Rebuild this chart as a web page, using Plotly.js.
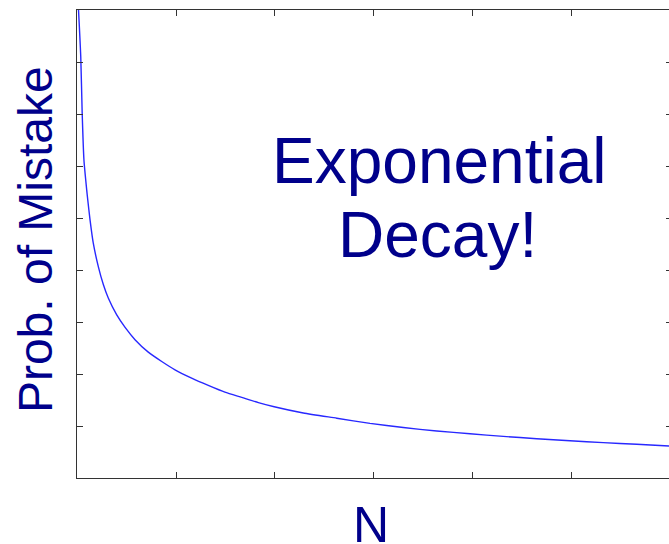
<!DOCTYPE html>
<html>
<head>
<meta charset="utf-8">
<script src="https://cdn.plot.ly/plotly-3.0.1.min.js"></script>
<style>
  html, body { margin: 0; padding: 0; background: #ffffff; }
  #chart { width: 669px; height: 544px; }
</style>
</head>
<body>
<div id="chart"></div>
<script>
// Values
var nValues = [0.5, 1.9, 2.6, 3.5, 4.9, 5.4, 6.6, 8.2, 10.8, 13.3, 15.8, 20.0, 24.2, 29.3, 36.0, 42.8, 49.5, 57.9, 66.3, 74.7, 83.2, 91.6, 99.6, 114.3, 131.2, 148.0, 164.8, 181.7, 198.5, 215.3, 232.2, 249.0, 265.8, 282.7, 299.0];
var probValues = [0.46, 0.405, 0.352, 0.306, 0.277, 0.268, 0.248, 0.226, 0.203, 0.186, 0.173, 0.157, 0.145, 0.133, 0.121, 0.112, 0.104, 0.096, 0.089, 0.0825, 0.0775, 0.0725, 0.0685, 0.0625, 0.0575, 0.0525, 0.0485, 0.0452, 0.0425, 0.0400, 0.0378, 0.0358, 0.0340, 0.0324, 0.0308];
var yTickValues = [0, 0.05, 0.1, 0.15, 0.2, 0.25, 0.3, 0.35, 0.4, 0.45];
var xTickValues = [0, 50, 100, 150, 200, 250, 300];
var xAxisLabel = "N";
var yAxisLabel = "Prob. of Mistake";
var noteLine1 = "Exponential";
var noteLine2 = "Decay!";

var navy = "#00008B";
var font = "Liberation Sans, Arial, Helvetica, sans-serif";

var traces = [{
  x: nValues,
  y: probValues,
  type: "scatter",
  mode: "lines",
  line: { color: "rgb(40,40,255)", width: 1.4, shape: "spline", smoothing: 0.6 },
  hoverinfo: "skip"
}];

var layout = {
  width: 669,
  height: 544,
  margin: { l: 77, r: 0, t: 10, b: 66, pad: 0 },
  paper_bgcolor: "#ffffff",
  plot_bgcolor: "#ffffff",
  showlegend: false,
  font: { family: font, color: "#333" },
  xaxis: {
    range: [0, 299],
    tickvals: xTickValues,
    ticks: "inside",
    ticklen: 6,
    tickwidth: 1,
    tickcolor: "#333",
    showline: true,
    linecolor: "#333",
    linewidth: 1,
    mirror: "ticks",
    showgrid: false,
    zeroline: false,
    showticklabels: false
  },
  yaxis: {
    range: [0, 0.45],
    tickvals: yTickValues,
    ticks: "inside",
    ticklen: 6,
    tickwidth: 1,
    tickcolor: "#333",
    showline: true,
    linecolor: "#333",
    linewidth: 1,
    showgrid: false,
    zeroline: false,
    showticklabels: false
  },
  yaxis2: {
    overlaying: "y",
    side: "right",
    range: [0, 0.45],
    tickvals: yTickValues,
    ticks: "inside",
    ticklen: 3,
    tickwidth: 1,
    tickcolor: "#333",
    showline: false,
    showgrid: false,
    zeroline: false,
    showticklabels: false
  },
  annotations: [
    { text: noteLine1, xref: "paper", yref: "paper", x: 0.611, y: 0.677, xanchor: "center", yanchor: "middle",
      showarrow: false, font: { family: font, size: 64, color: navy } },
    { text: noteLine2, xref: "paper", yref: "paper", x: 0.609, y: 0.520, xanchor: "center", yanchor: "middle",
      showarrow: false, font: { family: font, size: 64, color: navy } },
    { text: xAxisLabel, xref: "paper", yref: "paper", x: 0.496, y: -0.100, xanchor: "center", yanchor: "middle",
      showarrow: false, font: { family: font, size: 50, color: navy } },
    { text: yAxisLabel, xref: "paper", yref: "paper", x: -0.0708, y: 0.5085, xanchor: "center", yanchor: "middle",
      textangle: -90, showarrow: false, font: { family: font, size: 48, color: navy } }
  ]
};

// invisible trace on the right axis so its mirrored ticks render
traces.push({ x: [nValues[0]], y: [probValues[1]], yaxis: "y2", type: "scatter", mode: "lines", line: { width: 0 }, hoverinfo: "skip", showlegend: false });

Plotly.newPlot("chart", traces, layout, { displayModeBar: false, staticPlot: true });
</script>
</body>
</html>
